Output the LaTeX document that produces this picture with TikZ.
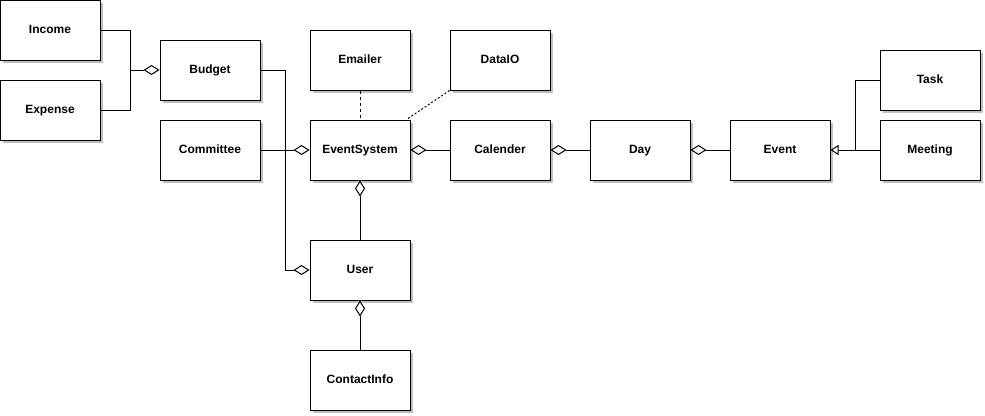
\documentclass[tikz,border=0pt]{standalone}
\usepackage{fontspec}
\setmainfont{Liberation Sans}
\usetikzlibrary{arrows.meta,shadows}
\begin{document}
\begin{tikzpicture}[x=1pt,y=-1pt,
  cls/.style={draw=black, line width=1pt, fill=white, minimum width=100pt, minimum height=60pt, inner sep=0pt,
    text height=9pt, text depth=2.5pt,
    font=\fontsize{12}{14}\selectfont\bfseries,
    drop shadow={shadow xshift=3pt, shadow yshift=-3pt, fill=black!25, opacity=1}},
  conn/.style={line width=1pt, draw=black},
  agg/.style={conn, -{Diamond[open, length=16pt, width=10pt, line width=1pt]}},
  gen/.style={conn, -{Triangle[open, length=8pt, width=10pt, line width=1pt]}},
  dep/.style={conn, dash pattern=on 3pt off 3pt},
  dot/.style={conn, dash pattern=on 2pt off 2pt}
]
\useasboundingbox (0,0) rectangle (985,415);
\node[cls] (Income) at (50,30) {Income};
\node[cls] (Expense) at (50,110) {Expense};
\node[cls] (Budget) at (210,70) {Budget};
\node[cls] (Committee) at (210,150) {Committee};
\node[cls] (Emailer) at (360,60) {Emailer};
\node[cls] (DataIO) at (500,60) {DataIO};
\node[cls] (EventSystem) at (360,150) {EventSystem};
\node[cls] (Calender) at (500,150) {Calender};
\node[cls] (Day) at (640,150) {Day};
\node[cls] (Event) at (780,150) {Event};
\node[cls] (Task) at (930,80) {Task};
\node[cls] (Meeting) at (930,150) {Meeting};
\node[cls] (User) at (360,270) {User};
\node[cls] (ContactInfo) at (360,380) {ContactInfo};

\coordinate (j1) at (130,70);
\coordinate (j2) at (285,70);
\coordinate (j3) at (855,150);

\draw[agg] (Income.east) -| (j1) -- (Budget.west);
\draw[conn] (Expense.east) -| (j1);
\draw[agg] (Budget.east) -- (j2) |- (User.west);
\draw[agg] (Committee.east) -- (EventSystem.west);
\draw[dep] (Emailer.south) -- (EventSystem.north);
\draw[dot] (DataIO.south west) -- ([xshift=-4pt]EventSystem.north east);
\draw[agg] (Calender.west) -- (EventSystem.east);
\draw[agg] (Day.west) -- (Calender.east);
\draw[agg] (Event.west) -- (Day.east);
\draw[gen] (Meeting.west) -- (Event.east);
\draw[conn] (Task.west) -| (j3);
\draw[agg] (User.north) -- (EventSystem.south);
\draw[agg] (ContactInfo.north) -- (User.south);
\end{tikzpicture}
\end{document}
